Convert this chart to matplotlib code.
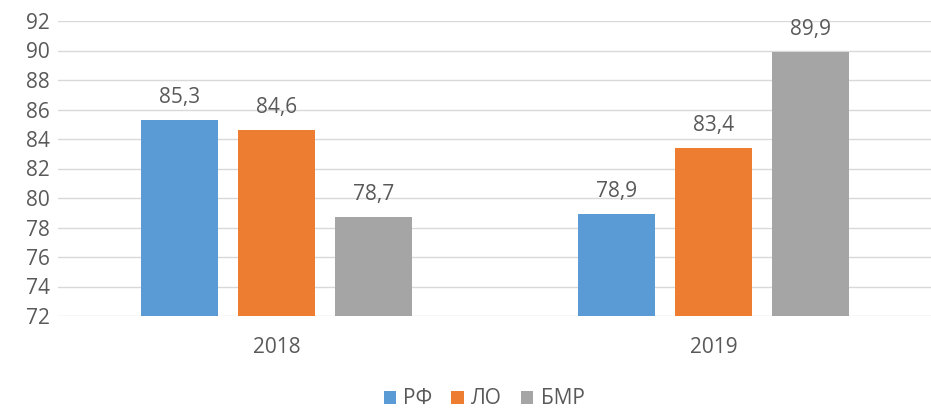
import matplotlib.pyplot as plt
import numpy as np

plt.rcParams['font.family'] = ['Open Sans', 'DejaVu Sans']

years = ['2018', '2019']
series = ['РФ', 'ЛО', 'БМР']
rf = [85.3, 78.9]
lo = [84.6, 83.4]
bmr = [78.7, 89.9]
colors = ['#5B9BD5', '#ED7D31', '#A5A5A5']

fig = plt.figure(figsize=(9.31, 4.09), dpi=100)
ax = fig.add_axes([58 / 931, 1 - 316 / 409, 874 / 931, 295 / 409])

x = np.arange(len(years))
width = 0.174
step = 0.222
txt = '#595959'
fs = 15

for i, (vals, name) in enumerate(zip([rf, lo, bmr], series)):
    pos = x + (i - 1) * step
    ax.bar(pos, [v - 72 for v in vals], width, bottom=72, color=colors[i], label=name, zorder=3)
    for p, v in zip(pos, vals):
        ax.text(p, v + 0.8, f'{v:.1f}'.replace('.', ','), ha='center', va='bottom', fontsize=fs, color=txt)

ax.set_xlim(-0.5, 1.5)
ax.set_ylim(72, 92)
ax.set_yticks(np.arange(72, 93, 2))
ax.set_xticks(x)
ax.set_xticklabels(years)
ax.tick_params(axis='both', length=0, labelsize=fs, labelcolor=txt)
ax.tick_params(axis='x', pad=15)
ax.tick_params(axis='y', pad=6)
ax.grid(axis='y', color='#D9D9D9', linewidth=1, zorder=0)
for s in ax.spines.values():
    s.set_visible(False)

ax.legend(loc='center', bbox_to_anchor=(484 / 931, 1 - 399 / 409), bbox_transform=fig.transFigure,
          ncol=3, frameon=False, fontsize=fs, handlelength=0.6, handleheight=0.6,
          handletextpad=0.35, columnspacing=0.9, labelcolor=txt)

fig.savefig('out.png', dpi=100)
